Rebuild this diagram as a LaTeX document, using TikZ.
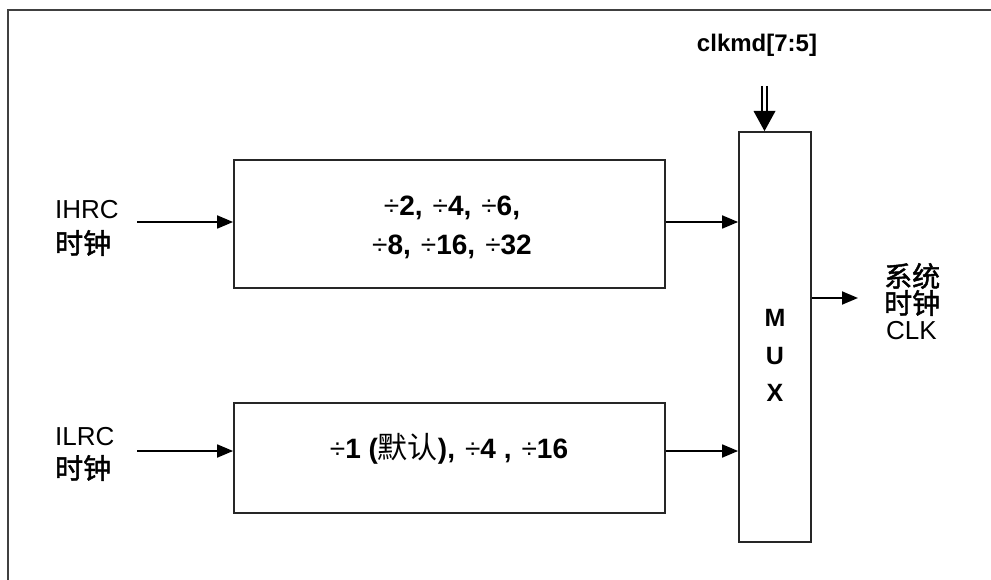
\documentclass[tikz,border=0pt]{standalone}
\usepackage{fontspec}
\setmainfont{Liberation Sans}
\newfontfamily\cjk{Noto Sans CJK SC}
\newfontfamily\cjkb[FakeBold=1.6]{Noto Sans CJK SC}
\usetikzlibrary{arrows.meta}
\newcommand\dv{{\mdseries ÷}}
\newcommand\gapx{\hspace{10pt}}
\tikzset{
  box/.style={draw=black!85, line width=1.8pt, fill=white, inner sep=0pt, font=\bfseries\fontsize{28}{39}\selectfont, align=center},
  arr/.style={line width=1.8pt, -{Triangle[length=16pt,width=13pt]}},
  lbl/.style={anchor=west, inner sep=0pt, font=\fontsize{26}{30}\selectfont},
  zh/.style={anchor=west, inner sep=0pt, font=\cjkb\fontsize{28}{30}\selectfont},
  mux/.style={anchor=center, inner sep=0pt, font=\bfseries\fontsize{25}{30}\selectfont},
}
\begin{document}
\begin{tikzpicture}[x=1pt,y=-1pt]
\useasboundingbox (0,0) rectangle (991,580);
\fill[white] (0,0) rectangle (991,580);
\draw[line width=1.8pt, black!75] (992,10) -- (8,10) -- (8,581);
% boxes
\node[box, minimum width=431pt, minimum height=128pt] (top) at (449.5,224) {};
\node[box, minimum width=431pt, minimum height=110pt] (bot) at (449.5,458) {};
\node[box, draw=none, fill=none] (toptext) at (452,227.5) {\dv2,\gapx\dv4,\gapx\dv6,\\\dv8,\gapx\dv16,\gapx\dv32};
\node[box, draw=none, fill=none] (bottext) at (449,449) {\dv1 ({\cjk\mdseries\fontsize{30}{30}\selectfont 默认}),\gapx\dv4 ,\gapx\dv16};
\node[box, minimum width=72pt, minimum height=410pt] (mux) at (775,337) {};
\node[mux] (m) at (775,318) {M};
\node[mux] (u) at (775,356) {U};
\node[mux] (x) at (775,393) {X};
% labels
\node[lbl] (ihrc) at (55,210) {IHRC};
\node[zh] (ihrcz) at (55,243) {时钟};
\node[lbl] (ilrc) at (55,437) {ILRC};
\node[zh] (ilrcz) at (55,468) {时钟};
\node[zh] (sys) at (884,276) {系统};
\node[zh] (sysz) at (884,303) {时钟};
\node[lbl] (clk) at (886,331) {CLK};
\node[mux, font=\bfseries\fontsize{24}{28}\selectfont] (clkmd) at (757,45) {clkmd[7:5]};
% connectors
\coordinate (in1) at (137,222);
\coordinate (in2) at (137,451);
\draw[arr] (in1) -- (in1 -| top.west);
\draw[arr] (top.east |- in1) -- (in1 -| mux.west);
\draw[arr] (in2) -- (in2 -| bot.west);
\draw[arr] (bot.east |- in2) -- (in2 -| mux.west);
\coordinate (o1) at (858,298);
\draw[arr] (mux.east |- o1) -- (o1);
% double control arrow
\coordinate (c1) at (764.5,86);
\coordinate (c2) at (764.5,111);
\draw[line width=1.8pt] ([xshift=-2.6pt]c1) -- ([xshift=-2.6pt]c2);
\draw[line width=1.8pt] ([xshift=2.6pt]c1) -- ([xshift=2.6pt]c2);
\fill ([xshift=-11pt]c2) -- ([xshift=11pt]c2) -- (c2 |- mux.north) -- cycle;
\end{tikzpicture}
\end{document}
